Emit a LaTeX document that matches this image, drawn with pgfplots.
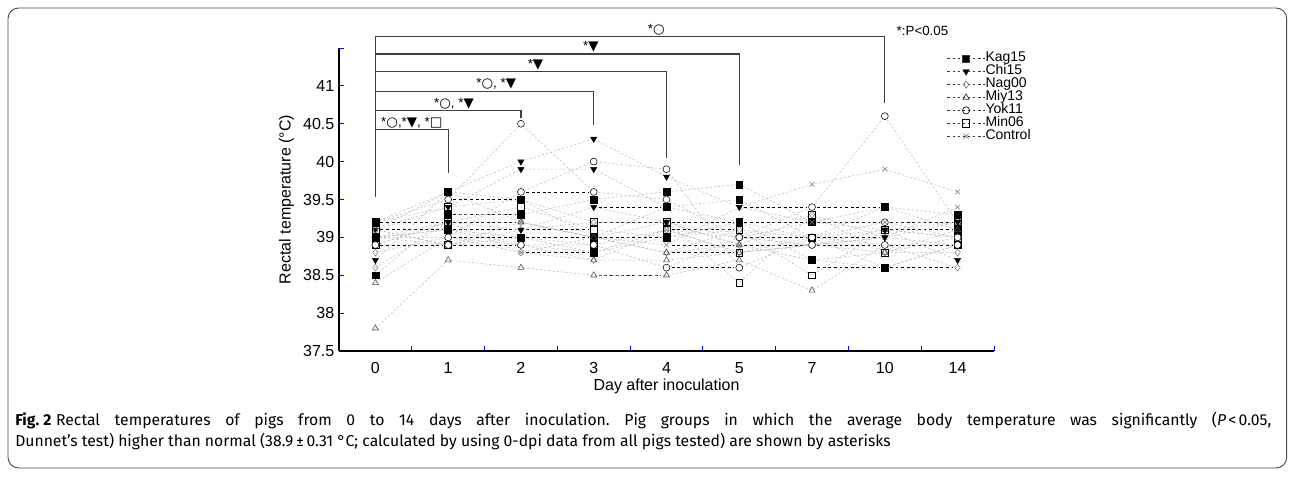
\documentclass[border=0pt]{standalone}
\usepackage{fontspec}
\setmainfont{Liberation Sans}
\newfontfamily\sym{DejaVu Sans}
\newfontfamily\capfont{Fira Sans}
\usepackage{pgfplots}
\pgfplotsset{compat=1.18}

% day index 0..8 = days 0,1,2,3,4,5,7,10,14 ; three pigs per group
\pgfplotstableread{
idx a b c
0 38.5 39.2 39.0
1 39.3 39.6 39.1
2 39.3 39.5 39.0
3 39.5 39.0 38.8
4 39.6 39.4 39.0
5 39.7 39.5 39.2
6 39.2 39.0 38.7
7 39.4 39.4 38.6
8 39.3 39.1 38.9
}\kag
\pgfplotstableread{
idx a b c
0 38.7 39.1 39.0
1 39.6 39.4 39.2
2 40.0 39.9 39.1
3 40.3 39.9 39.4
4 39.8 39.4 39.2
5 39.4 39.2 39.0
6 39.2 39.0 38.9
7 39.1 39.1 39.0
8 38.7 39.0 39.2
}\chi
\pgfplotstableread{
idx a b c
0 38.8 38.6 39.1
1 39.0 39.2 38.9
2 38.8 39.2 39.1
3 38.7 39.0 39.2
4 39.1 38.8 39.2
5 38.8 39.1 38.9
6 38.9 39.0 39.3
7 38.8 38.9 39.0
8 38.8 38.6 38.9
}\nag
\pgfplotstableread{
idx a b c
0 37.8 38.4 39.0
1 38.7 39.0 38.9
2 38.6 38.9 39.2
3 38.5 38.7 39.0
4 38.5 38.7 38.8
5 38.7 38.8 38.9
6 38.3 38.9 38.7
7 38.9 39.1 38.8
8 38.9 39.0 39.1
}\miy
\pgfplotstableread{
idx a b c
0 39.2 39.0 38.9
1 39.5 39.0 38.9
2 40.5 39.6 38.9
3 39.6 40.0 38.9
4 39.5 39.9 38.6
5 39.0 38.6 39.0
6 39.4 39.0 38.9
7 40.6 39.2 38.9
8 39.2 39.0 38.9
}\yok
\pgfplotstableread{
idx a b c
0 39.2 38.9 39.1
1 39.4 39.2 38.9
2 39.5 39.4 39.0
3 39.2 39.1 38.9
4 39.2 39.0 39.1
5 38.4 39.1 38.8
6 39.3 38.5 39.0
7 38.8 39.1 38.6
8 39.0 39.2 38.9
}\mino
\pgfplotstableread{
idx a b c
0 39.1 38.9 39.0
1 39.6 39.2 39.1
2 39.2 38.8 38.9
3 39.0 39.0 38.8
4 38.9 39.2 39.1
5 39.4 38.9 39.0
6 39.7 38.9 39.2
7 39.9 39.0 39.2
8 39.6 39.4 39.2
}\ctl
% overlapping equal-value segments (drawn dark)
\pgfplotstableread{
x y
0.07 39.2
0.07 39.1
0.07 38.9
1.07 39.5
1.07 39.3
1.07 39.2
1.07 39.1
1.07 39.0
1.07 38.9
2.07 39.6
2.07 39.1
2.07 39.0
2.07 38.8
3.07 39.4
3.07 39.2
3.07 39.0
3.07 38.5
4.07 39.2
4.07 39.1
4.07 38.9
4.07 38.8
4.07 38.6
5.07 39.4
5.07 39.2
5.07 39.0
5.07 38.9
6.07 39.4
6.07 39.2
6.07 39.0
6.07 38.9
6.07 38.6
7.07 39.2
7.07 39.1
7.07 38.9
7.07 38.6
}\same

\pgfplotsset{
  pig/.style={forget plot, gray!55, line width=0.4pt, dash pattern=on 1.6pt off 1.6pt, mark size=2.6pt},
  leg/.style={black!80, line width=0.5pt, dash pattern=on 2pt off 1.8pt, mark size=2.7pt},
}

\begin{document}
\frenchspacing
\begin{tikzpicture}
\path[use as bounding box] (0,0) rectangle (971.25pt,-357.75pt);
\draw[rounded corners=8pt, line width=0.7pt, black!70] (6pt,-6pt) rectangle (965pt,-351pt);

\begin{axis}[
    at={(254.25pt,-263.25pt)}, anchor=south west,
    scale only axis, width=491.25pt, height=227.25pt,
    xmin=-0.5, xmax=8.5, ymin=37.5, ymax=41.5,
    axis lines*=left,
    axis line style={black, line width=0.8pt},
    clip=false,
    xtick={0,...,8}, xticklabels={0,1,2,3,4,5,7,10,14},
    major x tick style={draw=none},
    minor xtick={0.5,1.5,...,8.5},
    ytick={37.5,38,...,41.5}, yticklabels={37.5,38,38.5,39,39.5,40,40.5,41,{}},
    tick align=inside, major tick length=3.5pt, minor tick length=3.5pt,
    every tick/.style={blue, line width=0.6pt},
    tick label style={font=\fontsize{12}{12}\selectfont},
    xticklabel style={yshift=-5pt},
    xlabel={Day after inoculation}, ylabel={Rectal temperature (°C)},
    label style={font=\fontsize{12}{12}\selectfont},
    xlabel style={yshift=3pt},
    legend style={at={(0.928,0.987)}, anchor=north west, draw=none, fill=none,
        inner sep=0pt, font=\fontsize{10.5}{10}\selectfont,
        nodes={text height=7pt, text depth=2.1pt, inner sep=0.3pt}},
    legend cell align=left,
    legend image code/.code={\draw[mark repeat=2,mark phase=2,#1] plot coordinates {(0pt,0pt)(14pt,0pt)(28pt,0pt)};},
]
\addlegendimage{leg, mark=square*, mark options={solid, fill=black}}
\addlegendimage{leg, mark=triangle*, mark options={solid, fill=black, rotate=180}}
\addlegendimage{leg, mark=diamond, mark options={solid, gray, fill=white}}
\addlegendimage{leg, mark=triangle, mark options={solid, black!80, fill=white}}
\addlegendimage{leg, mark=o, mark options={solid, black, fill=white}}
\addlegendimage{leg, mark=square, mark options={solid, black, fill=white}}
\addlegendimage{leg, mark=x, mark options={solid, gray}}
\legend{Kag15,Chi15,Nag00,Miy13,Yok11,Min06,Control}

% brackets
\addplot[forget plot, black!75, line width=0.9pt] coordinates {(0,39.53)(0,41.65)(7,41.65)(7,40.78)};
\addplot[forget plot, black!75, line width=0.9pt] coordinates {(0,41.42)(5,41.42)(5,39.96)};
\addplot[forget plot, black!75, line width=0.9pt] coordinates {(0,41.19)(4,41.19)(4,40.05)};
\addplot[forget plot, black!75, line width=0.9pt] coordinates {(0,40.93)(3,40.93)(3,40.49)};
\addplot[forget plot, black!75, line width=0.9pt] coordinates {(0,40.67)(2,40.67)(2,40.58)};
\addplot[forget plot, black!75, line width=0.9pt] coordinates {(0,40.42)(1,40.42)(1,39.85)};
\node[anchor=south, inner sep=1pt, font=\fontsize{10}{10}\selectfont] at (axis cs:3.86,41.65) {*{\sym ○}};
\node[anchor=south, inner sep=1pt, font=\fontsize{10}{10}\selectfont] at (axis cs:2.96,41.42) {*{\sym ▼}};
\node[anchor=south, inner sep=1pt, font=\fontsize{10}{10}\selectfont] at (axis cs:2.2,41.19) {*{\sym ▼}};
\node[anchor=south, inner sep=1pt, font=\fontsize{10}{10}\selectfont] at (axis cs:1.66,40.93) {*{\sym ○}, *{\sym ▼}};
\node[anchor=south, inner sep=1pt, font=\fontsize{10}{10}\selectfont] at (axis cs:1.08,40.67) {*{\sym ○}, *{\sym ▼}};
\node[anchor=south, inner sep=1pt, font=\fontsize{10}{10}\selectfont] at (axis cs:0.5,40.42) {*{\sym ○},*{\sym ▼}, *{\sym □}};
\node[anchor=west, inner sep=0pt, font=\fontsize{10}{10}\selectfont] at (axis cs:7.16,41.73) {*:P<0.05};

% equal-value overlaps
\addplot[forget plot, black, line width=0.6pt, dash pattern=on 2.2pt off 2pt, quiver={u=0.86, v=0}, mark=none] table[x=x, y=y] {\same};

% individual pigs
\foreach \c in {a,b,c}{
  \addplot[pig, mark=x, mark options={solid, gray}] table[x=idx, y=\c] {\ctl};
  \addplot[pig, mark=diamond, mark options={solid, gray, fill=white}] table[x=idx, y=\c] {\nag};
  \addplot[pig, mark=triangle, mark options={solid, black!70, fill=white}] table[x=idx, y=\c] {\miy};
  \addplot[pig, mark=square*, mark options={solid, fill=black, draw=black}] table[x=idx, y=\c] {\kag};
  \addplot[pig, mark=triangle*, mark options={solid, fill=black, draw=black, rotate=180}] table[x=idx, y=\c] {\chi};
  \addplot[pig, mark=square, mark options={solid, black, fill=white}] table[x=idx, y=\c] {\mino};
  \addplot[pig, mark=*, mark options={solid, black, fill=white}] table[x=idx, y=\c] {\yok};
}
\end{axis}

\node[anchor=base west, inner sep=0pt, font=\capfont\fontsize{11.8}{13}\selectfont] at (11.25pt,-318.75pt)
  {\makebox[942pt][s]{{\bfseries Fig.\kern0.25em2}\kern0.3em Rectal temperatures of pigs from 0 to 14 days after inoculation. Pig groups in which the average body temperature was significantly ({\itshape P}\kern0.15em<\kern0.15em0.05,}};
\node[anchor=base west, inner sep=0pt, font=\capfont\fontsize{11.8}{13}\selectfont] at (11.25pt,-334.5pt)
  {Dunnet’s test) higher than normal (38.9\,±\,0.31 °C; calculated by using 0-dpi data from all pigs tested) are shown by asterisks};
\end{tikzpicture}
\end{document}
